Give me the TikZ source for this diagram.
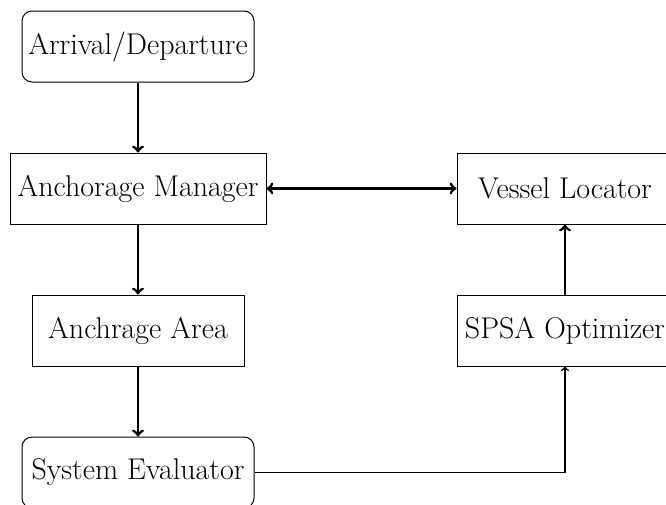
\documentclass[tikz,border=0pt]{standalone}
\begin{document}
\begin{tikzpicture}[x=0.75pt,y=-0.75pt,
  box/.style={draw,line width=0.75pt,inner sep=0pt,minimum height=53.25pt,font=\fontsize{22.5pt}{26pt}\selectfont},
  rbox/.style={box,rounded corners=7.5pt},
  thickarrow/.style={->,line width=2.1pt},
  thinarrow/.style={->,line width=1.2pt}]
\clip (0,0) rectangle (666,504);
\useasboundingbox (0,0) rectangle (666,504);
\node[rbox,minimum width=174pt] (arr) at (138,46.5) {Arrival/Departure};
\node[box,minimum width=192pt] (am) at (138,188.5) {Anchorage Manager};
\node[box,minimum width=162pt] (vl) at (565,188.5) {Vessel Locator};
\node[box,minimum width=159pt] (aa) at (138,330.5) {Anchrage Area};
\node[box,minimum width=162pt] (so) at (565,330.5) {SPSA Optimizer};
\node[rbox,minimum width=174pt] (se) at (138,472.5) {System Evaluator};
\draw[thickarrow] (arr) -- (am);
\draw[thickarrow] (am) -- (aa);
\draw[thickarrow] (aa) -- (se);
\draw[thickarrow,<->] (am) -- (vl);
\draw[thickarrow] (so) -- (vl);
\draw[thinarrow] (se.east) -| (so.south);
\end{tikzpicture}
\end{document}
